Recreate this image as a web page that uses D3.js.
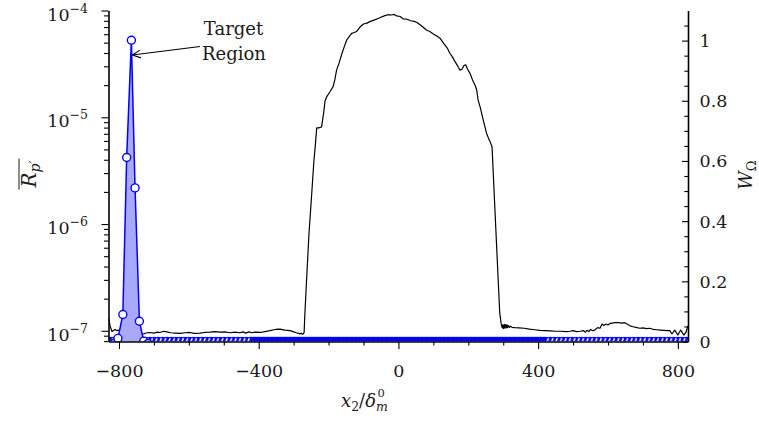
<!DOCTYPE html>
<html><head><meta charset="utf-8">
<script src="https://cdn.jsdelivr.net/npm/d3@7/dist/d3.min.js"></script>
<style>
body{margin:0;background:#fff}
svg{display:block}
text{font-family:"DejaVu Serif",serif;fill:#1a1a1a}
</style>
</head><body>
<svg id="c" width="759" height="421"></svg>
<script>
// ---------- data ----------
// blue series R_p' (left, log axis) around the target region
const peakX = [-815, -803, -789, -778, -764.5, -754, -741.5, -729, -717];
const peakR = [7.6e-8, 8.5e-8, 1.42e-7, 4.2e-6, 5.27e-5, 2.18e-6, 1.23e-7, 8.0e-8, 7.6e-8];

// black series W_Omega (right, linear axis)
const wX = [-830,-825,-820,-815,-811,-806,-802,-795,-785,-770,-755,-742,-730,-720,-711,-700,-690,-683,-672,-663,-652,-640,-625,-610,-597,-585,-568,-555,-540,-525,-510,-497,-482,-468,-454,-445,-437,-428,-420,-410,-396,-382,-368,-352,-339,-325,-310,-300,-292,-286,-282,-278,-275,-272,-270,-268,-264,-260,-256,-250,-246,-242,-238,-234,-228,-220,-214,-210,-205,-196,-187,-182,-177,-170,-163,-155,-148,-140,-134,-126,-120,-110,-100,-90,-82,-70,-55,-39,-30,-20,-12,-5,5,14,25,35,45,52,65,80,90,100,110,119,130,140,147,155,162,170,176,182,188,193,198,205,212,220,224,228,235,243,252,258,262,268,275,282,290,294,297,299,301,303,305,307,309,311,313,315,318,321,325,333,345,360,375,390,405,420,434,450,465,480,491,500,510,520,530,535,540,545,550,556,562,570,577,583,588,594,600,606,612,620,630,640,648,656,663,672,680,691,700,710,720,730,740,749,760,770,777,783,791,800,808,817,823,829];
const wW = [0.078,0.05,0.033,0.037,0.04,0.036,0.038,0.032,0.03,0.03,0.029,0.028,0.025,0.029,0.03,0.028,0.031,0.03,0.034,0.032,0.029,0.028,0.027,0.029,0.03,0.027,0.028,0.03,0.031,0.033,0.031,0.032,0.029,0.031,0.029,0.032,0.028,0.032,0.029,0.031,0.03,0.033,0.036,0.04,0.041,0.038,0.036,0.032,0.029,0.027,0.025,0.028,0.024,0.026,0.03,0.086,0.18,0.27,0.36,0.46,0.53,0.6,0.65,0.71,0.71,0.713,0.76,0.8,0.814,0.83,0.847,0.87,0.902,0.925,0.952,0.98,1.002,1.015,1.024,1.027,1.03,1.045,1.055,1.058,1.063,1.068,1.075,1.083,1.086,1.085,1.087,1.082,1.08,1.072,1.071,1.066,1.064,1.061,1.05,1.035,1.03,1.022,1.015,1.008,0.99,0.975,0.958,0.945,0.93,0.915,0.902,0.905,0.918,0.919,0.905,0.891,0.87,0.85,0.836,0.803,0.775,0.735,0.693,0.675,0.665,0.647,0.47,0.295,0.095,0.06,0.045,0.055,0.043,0.057,0.044,0.056,0.045,0.055,0.046,0.053,0.047,0.051,0.047,0.046,0.045,0.044,0.041,0.039,0.037,0.036,0.035,0.034,0.034,0.033,0.034,0.036,0.033,0.034,0.036,0.031,0.037,0.033,0.04,0.036,0.038,0.046,0.044,0.058,0.053,0.058,0.055,0.06,0.061,0.0625,0.063,0.061,0.0625,0.057,0.052,0.049,0.047,0.044,0.045,0.043,0.044,0.04,0.039,0.038,0.037,0.036,0.036,0.025,0.038,0.0216,0.038,0.0216,0.03,0.052];

// axis ticks
const xMajorTicks = [-800, -400, 0, 400, 800];
const xMinorTicks = [-700,-600,-500,-300,-200,-100,100,200,300,500,600,700];
const leftMajorExps = [-7, -6, -5, -4];
const rightMajorTicks = [0, 0.2, 0.4, 0.6, 0.8, 1];
const rightTickLabels = ["0", "0.2", "0.4", "0.6", "0.8", "1"];
const rightMinorTicks = [0.05,0.1,0.15,0.25,0.3,0.35,0.45,0.5,0.55,0.65,0.7,0.75,0.85,0.9,0.95,1.05];
// band where the clipped baseline markers merge into solid blue
const bandSolid = [-425, 420];

// ---------- layout ----------
const L = 108.5, R = 688, T = 10.5, B = 341.5;
const svg = d3.select("#c");
const x = d3.scaleLinear().domain([-830, 829]).range([L, R]);
const yL = d3.scaleLog().domain([7.94e-8, 1e-4]).range([B, T]);
const yR = d3.scaleLinear().domain([0, 1.1]).range([B, T]);
const BLUE = "#0000ff";

const defs = svg.append("defs");
defs.append("clipPath").attr("id", "clip").append("rect")
  .attr("x", L).attr("y", T).attr("width", R - L).attr("height", B - T);
const pat = defs.append("pattern").attr("id", "hatch")
  .attr("patternUnits", "userSpaceOnUse").attr("x", 0).attr("y", B - 4.6)
  .attr("width", 4.4).attr("height", 4.6);
pat.append("rect").attr("width", 4.4).attr("height", 4.6).attr("fill", BLUE);
pat.append("polygon").attr("points", "0.9,4.6 2.5,4.6 3.7,1.2 2.1,1.2").attr("fill", "#fff");

const plot = svg.append("g").attr("clip-path", "url(#clip)");

// black W line
plot.append("path")
  .datum(wX.map((d, i) => [d, wW[i]]))
  .attr("fill", "none").attr("stroke", "#000").attr("stroke-width", 1.2)
  .attr("stroke-linejoin", "round")
  .attr("d", d3.line().x(d => x(d[0])).y(d => yR(d[1])));

// baseline band of clipped blue markers
plot.append("rect").attr("x", L).attr("y", B - 4.6).attr("width", R - L).attr("height", 4.6)
  .attr("fill", "url(#hatch)");
plot.append("rect").attr("x", x(bandSolid[0])).attr("y", B - 4.6)
  .attr("width", x(bandSolid[1]) - x(bandSolid[0])).attr("height", 4.6).attr("fill", BLUE);

// blue peak
const pk = peakX.map((d, i) => [d, peakR[i]]);
plot.append("path").datum(pk)
  .attr("fill", "#a9a9fb").attr("stroke", "none")
  .attr("d", d3.area().x(d => x(d[0])).y0(B).y1(d => yL(d[1])));
plot.append("path").datum(pk)
  .attr("fill", "none").attr("stroke", BLUE).attr("stroke-width", 1.5)
  .attr("d", d3.line().x(d => x(d[0])).y(d => yL(d[1])));
plot.selectAll("circle").data(pk).join("circle")
  .attr("cx", d => x(d[0])).attr("cy", d => yL(d[1])).attr("r", 4)
  .attr("fill", "#fff").attr("stroke", BLUE).attr("stroke-width", 1.4);

// ---------- axes ----------
function styleAxis(g) {
  g.selectAll(".domain").attr("stroke", "#000").attr("stroke-width", 1.6);
  g.selectAll(".tick line").attr("stroke", "#000").attr("stroke-width", 1.1);
}
const fmtX = d => d < 0 ? "\u2212" + Math.abs(d) : String(d);
const gx = svg.append("g").attr("transform", `translate(0,${B})`)
  .call(d3.axisBottom(x).tickValues(xMajorTicks).tickSize(7.5).tickSizeOuter(0).tickFormat(fmtX));
gx.call(styleAxis);
gx.selectAll("text").attr("font-size", 17.5).attr("font-family", "DejaVu Serif").attr("fill", "#1a1a1a")
  .attr("dy", null).attr("y", 35.5);
svg.append("g").attr("transform", `translate(0,${B})`)
  .call(d3.axisBottom(x).tickValues(xMinorTicks).tickSize(4).tickFormat(""))
  .call(g => g.select(".domain").remove()).call(styleAxis);

// left log axis
const leftMinor = [];
[-8, -7, -6, -5].forEach(e => { for (let k = 2; k <= 9; k++) { const v = k * Math.pow(10, e); if (v >= 7.94e-8 && v < 1e-4) leftMinor.push(v); } });
const gl = svg.append("g").attr("transform", `translate(${L},0)`)
  .call(d3.axisLeft(yL).tickValues(leftMajorExps.map(e => Math.pow(10, e))).tickSize(7).tickSizeOuter(0).tickFormat(""));
gl.call(styleAxis);
svg.append("g").attr("transform", `translate(${L},0)`)
  .call(d3.axisLeft(yL).tickValues(leftMinor).tickSize(4.5).tickFormat(""))
  .call(g => g.select(".domain").remove()).call(styleAxis);
leftMajorExps.forEach(e => {
  const t = svg.append("text").attr("x", 88).attr("y", yL(Math.pow(10, e)) + 10)
    .attr("text-anchor", "end").attr("font-size", 17.5);
  t.append("tspan").text("10");
  t.append("tspan").attr("font-size", 12.5).attr("dy", -8).text("\u2212" + Math.abs(e));
});

// right linear axis (ticks inward)
const gr = svg.append("g").attr("transform", `translate(${R},0)`)
  .call(d3.axisLeft(yR).tickValues(rightMajorTicks).tickSize(6).tickSizeOuter(0).tickFormat(""));
gr.call(styleAxis);
svg.append("g").attr("transform", `translate(${R},0)`)
  .call(d3.axisLeft(yR).tickValues(rightMinorTicks).tickSize(3.7).tickFormat(""))
  .call(g => g.select(".domain").remove()).call(styleAxis);
rightMajorTicks.forEach((v, i) => {
  svg.append("text").attr("x", 699.5).attr("y", yR(v) + 6.5).attr("font-size", 17.5).text(rightTickLabels[i]);
});

// ---------- axis labels ----------
const xl = svg.append("text").attr("x", 341).attr("y", 407).attr("font-size", 18);
xl.append("tspan").attr("font-style", "italic").text("x");
xl.append("tspan").attr("font-size", 12.5).attr("dy", 4).text("2");
xl.append("tspan").attr("dy", -4).text("/");
xl.append("tspan").attr("font-style", "italic").text("\u03b4");
xl.append("tspan").attr("font-size", 12.5).attr("font-style", "italic").attr("dy", 4).text("m");
const xlb = xl.node().getBBox();
svg.append("text").attr("x", xlb.x + xlb.width - 10.5).attr("y", 397)
  .attr("font-size", 11.5).text("0");

const ylab = svg.append("text").attr("transform", "translate(36,174) rotate(-90)")
  .attr("text-anchor", "middle").attr("font-size", 20);
ylab.append("tspan").attr("font-style", "italic").text("R");
ylab.append("tspan").attr("font-size", 14).attr("font-style", "italic").attr("dy", 4).text("p\u2032");
const bb = ylab.node().getBBox();
svg.append("line").attr("transform", "translate(36,174) rotate(-90)")
  .attr("x1", bb.x - 1).attr("x2", bb.x + bb.width + 1)
  .attr("y1", bb.y + 2).attr("y2", bb.y + 2)
  .attr("stroke", "#1a1a1a").attr("stroke-width", 1);

const yr = svg.append("text").attr("transform", "translate(752,175) rotate(-90)")
  .attr("text-anchor", "middle").attr("font-size", 18);
yr.append("tspan").attr("font-style", "italic").text("W");
yr.append("tspan").attr("font-size", 13).attr("dy", 4).text("\u03a9");

// ---------- annotation ----------
svg.append("text").attr("x", 233.5).attr("y", 35).attr("text-anchor", "middle").attr("font-size", 18).text("Target");
svg.append("text").attr("x", 234).attr("y", 59.5).attr("text-anchor", "middle").attr("font-size", 18).text("Region");
const ax0 = 200, ay0 = 46.5, ax1 = x(peakX[4]) + 1, ay1 = 55;
svg.append("line").attr("x1", ax0).attr("y1", ay0).attr("x2", ax1).attr("y2", ay1)
  .attr("stroke", "#000").attr("stroke-width", 1.1);
const ang = Math.atan2(ay0 - ay1, ax0 - ax1);
[0.45, -0.45].forEach(da => {
  svg.append("line").attr("x1", ax1).attr("y1", ay1)
    .attr("x2", ax1 + 9 * Math.cos(ang + da)).attr("y2", ay1 + 9 * Math.sin(ang + da))
    .attr("stroke", "#000").attr("stroke-width", 1.1);
});
</script>
</body></html>
